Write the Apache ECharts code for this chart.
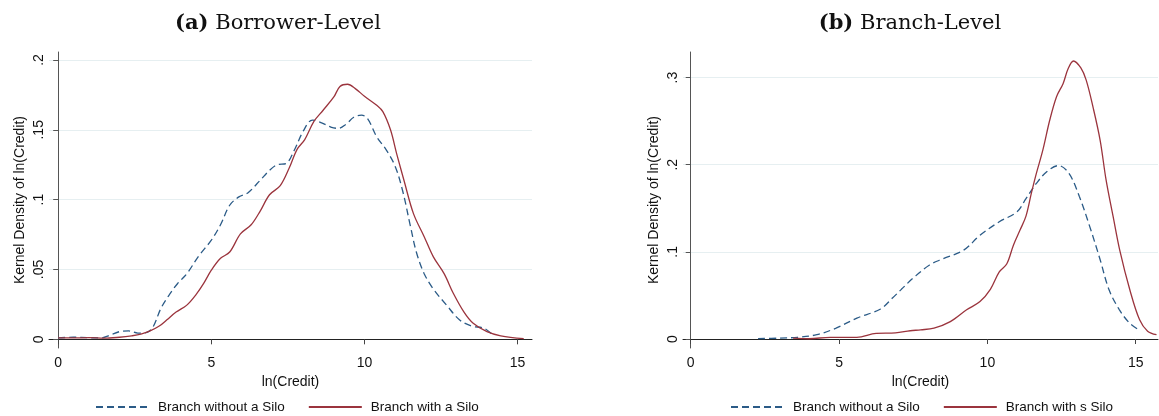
<!DOCTYPE html>
<html>
<head>
<meta charset="utf-8">
<script src="https://cdn.jsdelivr.net/npm/echarts@6/dist/echarts.min.js"></script>
<style>
    html, body { margin: 0; padding: 0; background: #fff; }
    #chart { width: 1159px; height: 416px; }
</style>
</head>
<body>
<div id="chart"></div>
<script>
// 数据 (a) Borrower-Level
let aNoSiloX = [0, 0.5, 1.0, 1.4, 1.7, 2.0, 2.3, 2.6, 2.9, 3.1, 3.35, 3.6, 3.9, 4.2, 4.6, 5.0, 5.3, 5.6, 5.9, 6.2, 6.6, 6.9, 7.15, 7.45, 7.7, 8.0, 8.3, 8.6, 8.9, 9.15, 9.4, 9.65, 9.9, 10.1, 10.4, 10.7, 11.0, 11.25, 11.5, 11.7, 11.95, 12.25, 12.7, 13.1, 13.5, 13.9, 14.2]
let aNoSiloY = [0.001, 0.0015, 0.0012, 0.001, 0.003, 0.0055, 0.006, 0.0045, 0.005, 0.009, 0.022, 0.031, 0.040, 0.047, 0.060, 0.071, 0.082, 0.096, 0.102, 0.105, 0.114, 0.121, 0.125, 0.126, 0.135, 0.149, 0.157, 0.155, 0.152, 0.151, 0.154, 0.159, 0.1605, 0.158, 0.145, 0.136, 0.124, 0.106, 0.081, 0.062, 0.047, 0.036, 0.024, 0.014, 0.0095, 0.008, 0.003]
let aSiloX = [0, 0.5, 1.0, 1.5, 2.0, 2.4, 2.7, 3.0, 3.3, 3.55, 3.85, 4.2, 4.5, 4.75, 5.0, 5.3, 5.6, 5.95, 6.3, 6.6, 6.9, 7.25, 7.55, 7.8, 8.05, 8.35, 8.65, 9.0, 9.2, 9.45, 9.7, 10.0, 10.4, 10.6, 10.85, 11.05, 11.3, 11.6, 11.95, 12.25, 12.6, 12.9, 13.25, 13.55, 14.0, 14.45, 15.2]
let aSiloY = [0.001, 0.001, 0.0012, 0.0008, 0.0015, 0.0025, 0.0037, 0.006, 0.0095, 0.014, 0.0195, 0.0245, 0.032, 0.040, 0.0495, 0.058, 0.0625, 0.0755, 0.082, 0.092, 0.1035, 0.110, 0.123, 0.136, 0.143, 0.156, 0.164, 0.1735, 0.181, 0.1826, 0.1795, 0.174, 0.1675, 0.163, 0.150, 0.133, 0.113, 0.090, 0.0735, 0.059, 0.047, 0.033, 0.0195, 0.0115, 0.0055, 0.0025, 0.0005]

// 数据 (b) Branch-Level
let bNoSiloX = [2.27, 3.0, 3.6, 4.25, 4.9, 5.6, 6.4, 6.8, 7.1, 7.5, 8.05, 8.5, 9.2, 9.75, 10.4, 11.0, 11.3, 11.65, 12.0, 12.4, 12.75, 13.1, 13.45, 13.8, 14.1, 14.45, 14.8, 15.15]
let bNoSiloY = [0.0005, 0.001, 0.002, 0.005, 0.0125, 0.024, 0.0345, 0.047, 0.057, 0.070, 0.085, 0.092, 0.102, 0.119, 0.1345, 0.146, 0.161, 0.1785, 0.192, 0.199, 0.190, 0.1635, 0.129, 0.091, 0.0565, 0.0335, 0.018, 0.0095]
let bSiloX = [3.45, 4.0, 4.7, 5.6, 6.25, 6.9, 7.4, 7.75, 8.2, 8.75, 9.3, 9.75, 10.1, 10.4, 10.65, 10.88, 11.1, 11.3, 11.48, 11.65, 11.87, 12.1, 12.33, 12.55, 12.72, 12.9, 13.15, 13.33, 13.56, 13.8, 14.0, 14.24, 14.46, 14.8, 15.13, 15.4, 15.7]
let bSiloY = [0.001, 0.0003, 0.002, 0.002, 0.0065, 0.007, 0.0095, 0.0105, 0.0125, 0.020, 0.0335, 0.043, 0.057, 0.077, 0.086, 0.108, 0.125, 0.141, 0.167, 0.190, 0.217, 0.251, 0.278, 0.293, 0.310, 0.319, 0.311, 0.297, 0.266, 0.228, 0.1825, 0.140, 0.102, 0.0565, 0.022, 0.009, 0.005]

// 刻度
let xTicks = [0, 5, 10, 15]
let aYTicks = [0, 0.05, 0.1, 0.15, 0.2]
let aYLabels = ['0', '.05', '.1', '.15', '.2']
let bYTicks = [0, 0.1, 0.2, 0.3]
let bYLabels = ['0', '.1', '.2', '.3']

let nameA = ['Branch without a Silo', 'Branch with a Silo']
let nameB = ['Branch without a Silo', 'Branch with s Silo']

//颜色
let blue = '#2b5b87'
let red = '#9b343d'
let gridColor = '#e6eff1'
let sans = 'Liberation Sans, Arial, sans-serif'

let pairs = (xs, ys) => xs.map((x, i) => [x, ys[i]])
let tickLabel = (ticks, labels) => (v) => {
    let i = ticks.findIndex(t => Math.abs(t - v) < 1e-9)
    return i >= 0 ? labels[i] : ''
}

let makeX = (idx, min, max) => ({
    type: 'value',
    gridIndex: idx,
    min: min,
    max: max,
    name: 'ln(Credit)',
    nameLocation: 'middle',
    nameGap: 22,
    nameTextStyle: { fontFamily: sans, fontSize: 14, color: '#111' },
    axisLine: { lineStyle: { color: '#222', width: 1 } },
    axisTick: { length: 5, customValues: xTicks, lineStyle: { color: '#444' } },
    axisLabel: { customValues: xTicks, margin: 8, fontFamily: sans, fontSize: 14, color: '#111' },
    splitLine: { show: false }
})

let makeY = (idx, min, max, ticks, labels) => ({
    type: 'value',
    gridIndex: idx,
    min: min,
    max: max,
    name: 'Kernel Density of ln(Credit)',
    nameLocation: 'middle',
    nameGap: 22,
    nameTextStyle: { fontFamily: sans, fontSize: 14, color: '#111' },
    axisLine: { show: true, lineStyle: { color: '#555', width: 1 } },
    axisTick: { show: true, length: 5, customValues: ticks, lineStyle: { color: '#555' } },
    axisLabel: {
        customValues: ticks,
        rotate: 90,
        margin: 3,
        fontFamily: sans,
        fontSize: 14,
        color: '#111',
        formatter: tickLabel(ticks, labels)
    },
    splitLine: { show: true, lineStyle: { color: gridColor, width: 1 } }
})

let makeLine = (name, data, xi, color, dashed) => ({
    name: name,
    type: 'line',
    xAxisIndex: xi,
    yAxisIndex: xi,
    data: data,
    symbol: 'none',
    smooth: 0.35,
    lineStyle: { color: color, width: 1.3, type: dashed ? [7, 4] : 'solid' },
    itemStyle: { color: color }
})

let makeLegend = (left, names) => ({
    left: left,
    top: 400,
    padding: 0,
    itemWidth: 53,
    itemHeight: 14,
    itemGap: 23,
    selectedMode: false,
    data: names,
    // 只要线, 不要圆点
    itemStyle: { opacity: 0 },
    textStyle: { fontFamily: sans, fontSize: 13.5, color: '#111', padding: [0, 0, 0, 4] }
})

let titleStyle = {
    fontFamily: 'DejaVu Serif, serif',
    fontSize: 21,
    fontWeight: 'normal',
    color: '#111',
    rich: {
        b: { fontFamily: 'DejaVu Serif, serif', fontSize: 21, fontWeight: 'bold', color: '#111' }
    }
}

let myChart = echarts.init(document.getElementById('chart'))
let option = {
    animation: false,
    backgroundColor: '#fff',
    title: [
        { text: '{b|(a)} Borrower-Level', left: 278, top: 13, textAlign: 'center', padding: 0, textStyle: titleStyle },
        { text: '{b|(b)} Branch-Level', left: 910, top: 13, textAlign: 'center', padding: 0, textStyle: titleStyle }
    ],
    legend: [makeLegend(95, nameA), makeLegend(730, nameB)],
    grid: [
        { left: 49, right: 627, top: 52, bottom: 68 },
        { left: 683, right: 1, top: 52, bottom: 68 }
    ],
    xAxis: [makeX(0, -0.3, 15.47), makeX(1, -0.26, 15.75)],
    yAxis: [
        makeY(0, -0.0062, 0.2057, aYTicks, aYLabels),
        makeY(1, -0.0103, 0.3293, bYTicks, bYLabels)
    ],
    series: [
        makeLine(nameA[0], pairs(aNoSiloX, aNoSiloY), 0, blue, true),
        makeLine(nameA[1], pairs(aSiloX, aSiloY), 0, red, false),
        makeLine(nameB[0], pairs(bNoSiloX, bNoSiloY), 1, blue, true),
        makeLine(nameB[1], pairs(bSiloX, bSiloY), 1, red, false)
    ]
}
myChart.setOption(option)
window.addEventListener('resize', function () {
    myChart.resize()
})
</script>
</body>
</html>
